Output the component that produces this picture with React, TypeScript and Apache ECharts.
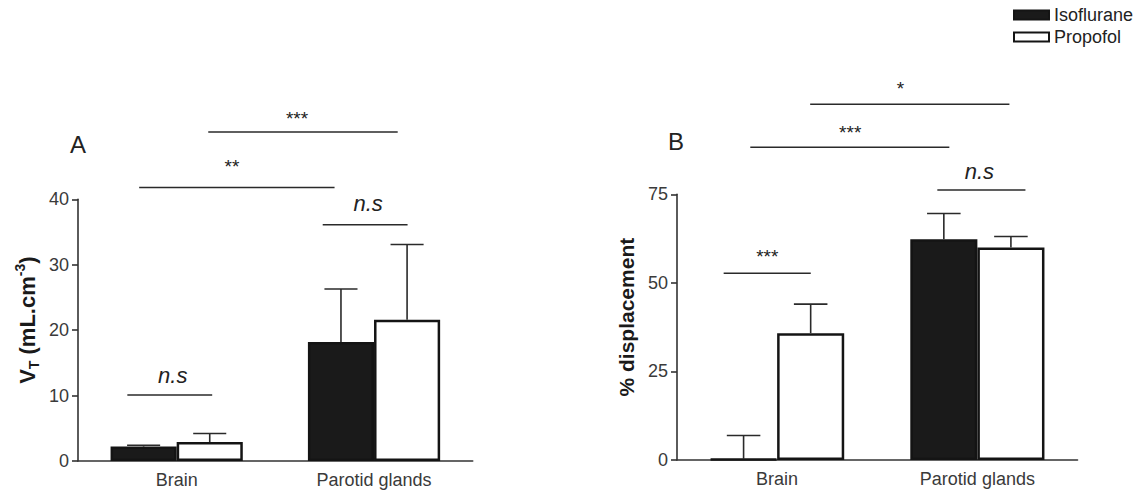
import React, { useEffect, useRef } from "react";
import * as echarts from "echarts";

// ---- data ----
const categories = ["Brain", "Parotid glands"];
const seriesNames = ["Isoflurane", "Propofol"];

// Panel A: VT (mL.cm-3), mean and SEM
const vtIsoflurane = [2.2, 18.2];
const vtIsofluraneSem = [0.2, 8.1];
const vtPropofol = [2.9, 21.6];
const vtPropofolSem = [1.3, 11.5];

// Panel B: % displacement, mean and SEM
const dispIsoflurane = [0.3, 62.3];
const dispIsofluraneSem = [6.6, 7.3];
const dispPropofol = [35.8, 60.0];
const dispPropofolSem = [8.2, 3.1];

// axis ranges
const vtAxis = { min: 0, max: 40, interval: 10 };
const dispAxis = { min: 0, max: 75, interval: 25 };

// significance brackets: positions in category units, heights in axis values
const vtBrackets = [
  { label: "***", from: 0.16, to: 1.12, y: 50.3, textAt: 0.61, textY: 53.0 },
  { label: "**", from: -0.19, to: 0.8, y: 41.8, textAt: 0.28, textY: 45.6 },
  { label: "n.s", from: 0.74, to: 1.17, y: 36.1, textAt: 0.97, textY: 39.1 },
  { label: "n.s", from: -0.25, to: 0.18, y: 10.1, textAt: -0.02, textY: 12.8 },
];
const dispBrackets = [
  { label: "*", from: 0.165, to: 1.16, y: 100.4, textAt: 0.616, textY: 106.1 },
  { label: "***", from: -0.134, to: 0.86, y: 88.3, textAt: 0.365, textY: 93.6 },
  { label: "n.s", from: 0.8, to: 1.24, y: 76.2, textAt: 1.01, textY: 80.9 },
  { label: "***", from: -0.267, to: 0.168, y: 52.7, textAt: -0.049, textY: 58.5 },
];

const FONT = 'Arial, "Liberation Sans", Helvetica, sans-serif';
const AXIS = "#333333";
const CAT_GAP = 0.33;

function errorSeries(
  axisIndex: number,
  means: number[],
  sems: number[],
  side: number
) {
  return {
    type: "custom",
    xAxisIndex: axisIndex,
    yAxisIndex: axisIndex,
    z: 5,
    clip: false,
    silent: true,
    data: means.map((m, i) => [i, m, m + sems[i]]),
    encode: { x: 0, y: [1, 2] },
    renderItem: (params: any, api: any) => {
      const i = api.value(0);
      const mean = api.value(1);
      const top = api.value(2);
      const band = api.size([1, 0])[0];
      const barW = (band * (1 - CAT_GAP)) / 2;
      const base = api.coord([i, mean]);
      const cx = base[0] + (side * barW) / 2;
      const y0 = base[1];
      const y1 = api.coord([i, top])[1];
      const st = { stroke: "#2a2a2a", lineWidth: 1.6 };
      return {
        type: "group",
        children: [
          { type: "line", shape: { x1: cx, y1: y0, x2: cx, y2: y1 }, style: st },
          {
            type: "line",
            shape: { x1: cx - barW / 4, y1: y1, x2: cx + barW / 4, y2: y1 },
            style: st,
          },
        ],
      };
    },
  };
}

function bracketSeries(axisIndex: number, brackets: typeof vtBrackets) {
  return {
    type: "custom",
    xAxisIndex: axisIndex,
    yAxisIndex: axisIndex,
    z: 6,
    clip: false,
    silent: true,
    data: brackets.map((b) => [0, b.y]),
    renderItem: (params: any, api: any) => {
      const b = brackets[params.dataIndex];
      const band = api.size([1, 0])[0];
      const x0 = api.coord([0, 0])[0];
      const yLine = api.coord([0, b.y])[1];
      const yText = api.coord([0, b.textY])[1];
      const isNs = b.label === "n.s";
      return {
        type: "group",
        children: [
          {
            type: "line",
            shape: {
              x1: x0 + b.from * band,
              y1: yLine,
              x2: x0 + b.to * band,
              y2: yLine,
            },
            style: { stroke: "#2a2a2a", lineWidth: 1.5 },
          },
          {
            type: "text",
            style: {
              x: x0 + b.textAt * band,
              y: yText + (isNs ? -2 : 4),
              text: b.label,
              fill: "#222",
              fontFamily: FONT,
              fontSize: isNs ? 22 : 19,
              fontStyle: isNs ? "italic" : "normal",
              align: "center",
              verticalAlign: "middle",
            },
          },
        ],
      };
    },
  };
}

function barSeries(axisIndex: number, name: string, values: number[]) {
  const iso = name === "Isoflurane";
  return {
    type: "bar",
    name,
    xAxisIndex: axisIndex,
    yAxisIndex: axisIndex,
    data: values,
    barGap: "0%",
    barCategoryGap: `${CAT_GAP * 100}%`,
    z: 3,
    itemStyle: {
      color: iso ? "#1a1a1a" : "#ffffff",
      borderColor: "#141414",
      borderWidth: 2.5,
    },
  };
}

const axisLabelStyle = {
  color: "#3a3a3a",
  fontSize: 18,
  fontFamily: FONT,
};

export default function App() {
  const ref = useRef<HTMLDivElement>(null);
  useEffect(() => {
    if (!ref.current) return;
    const chart = echarts.init(ref.current, undefined, { renderer: "svg" });
    const option: any = {
      animation: false,
      backgroundColor: "#ffffff",
      textStyle: { fontFamily: FONT },
      legend: {
        data: seriesNames,
        orient: "vertical",
        left: 1013,
        top: 6,
        padding: 0,
        itemWidth: 35,
        itemHeight: 9,
        itemGap: 4,
        icon: "rect",
        selectedMode: false,
        textStyle: { fontSize: 18, color: "#222", fontFamily: FONT },
      },
      grid: [
        { left: 78, right: 1140 - 472.7, top: 199.3, bottom: 492 - 461 },
        { left: 677, right: 1140 - 1077.5, top: 194.3, bottom: 492 - 460 },
      ],
      xAxis: [0, 1].map((g) => ({
        type: "category",
        gridIndex: g,
        data: categories,
        axisTick: { show: false },
        axisLine: { lineStyle: { color: AXIS, width: 1.6 } },
        axisLabel: { ...axisLabelStyle, margin: 10 },
        splitLine: { show: false },
      })),
      yAxis: [
        {
          type: "value",
          gridIndex: 0,
          min: vtAxis.min,
          max: vtAxis.max,
          interval: vtAxis.interval,
          name: "{b|V}{sub|T}{b| (mL.cm}{sup|-3}{b|)}",
          nameLocation: "middle",
          nameGap: 37,
          nameRotate: 90,
          nameTextStyle: {
            padding: [0, 0, 0, 20],
            rich: {
              b: { fontSize: 22, fontWeight: "bold", color: "#1a1a1a", fontFamily: FONT, lineHeight: 28 },
              sub: { fontSize: 14, fontWeight: "bold", color: "#1a1a1a", fontFamily: FONT, verticalAlign: "bottom", lineHeight: 13 },
              sup: { fontSize: 14, fontWeight: "bold", color: "#1a1a1a", fontFamily: FONT, verticalAlign: "top", lineHeight: 13 },
            },
          },
          axisLine: { show: true, lineStyle: { color: AXIS, width: 1.6 } },
          axisTick: { show: true, length: 6, lineStyle: { color: AXIS, width: 1.6 } },
          axisLabel: { ...axisLabelStyle, margin: 9 },
          splitLine: { show: false },
        },
        {
          type: "value",
          gridIndex: 1,
          min: dispAxis.min,
          max: dispAxis.max,
          interval: dispAxis.interval,
          name: "% displacement",
          nameLocation: "middle",
          nameGap: 40,
          nameRotate: 90,
          nameTextStyle: {
            fontSize: 21,
            fontWeight: "bold",
            color: "#1a1a1a",
            fontFamily: FONT,
            padding: [0, 0, 0, 20],
          },
          axisLine: { show: true, lineStyle: { color: AXIS, width: 1.6 } },
          axisTick: { show: true, length: 6, lineStyle: { color: AXIS, width: 1.6 } },
          axisLabel: { ...axisLabelStyle, margin: 9 },
          splitLine: { show: false },
        },
      ],
      graphic: [
        {
          type: "text",
          x: 70,
          y: 144,
          style: { text: "A", fontSize: 24, fontFamily: FONT, fill: "#222", align: "left", verticalAlign: "middle" },
        },
        {
          type: "text",
          x: 668,
          y: 141,
          style: { text: "B", fontSize: 24, fontFamily: FONT, fill: "#222", align: "left", verticalAlign: "middle" },
        },
      ],
      series: [
        barSeries(0, "Isoflurane", vtIsoflurane),
        barSeries(0, "Propofol", vtPropofol),
        barSeries(1, "Isoflurane", dispIsoflurane),
        barSeries(1, "Propofol", dispPropofol),
        errorSeries(0, vtIsoflurane, vtIsofluraneSem, -1),
        errorSeries(0, vtPropofol, vtPropofolSem, 1),
        errorSeries(1, dispIsoflurane, dispIsofluraneSem, -1),
        errorSeries(1, dispPropofol, dispPropofolSem, 1),
        bracketSeries(0, vtBrackets),
        bracketSeries(1, dispBrackets),
      ],
    };
    chart.setOption(option);
    return () => chart.dispose();
  }, []);
  return (
    <div
      ref={ref}
      style={{ position: "fixed", left: 0, top: 0, width: 1140, height: 492, background: "#fff" }}
    />
  );
}
